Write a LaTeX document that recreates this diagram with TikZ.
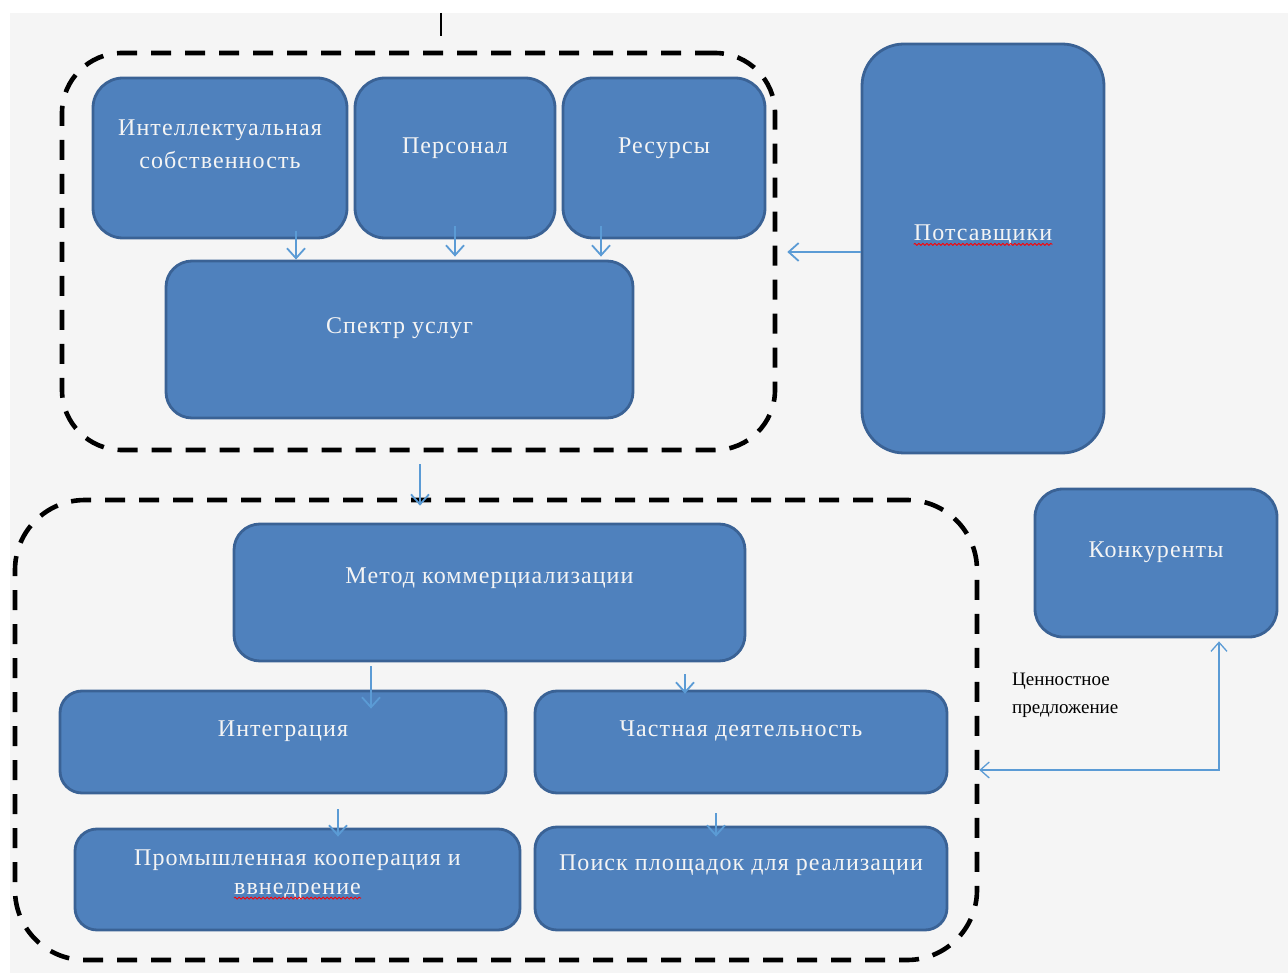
\documentclass[tikz,border=0pt]{standalone}
\usepackage{fontspec}
\setmainfont{Liberation Serif}
\newfontfamily\boxfont{Liberation Serif}[LetterSpace=4.5]
\usetikzlibrary{arrows.meta,decorations.pathmorphing,calc}
\definecolor{boxfill}{HTML}{4F81BD}
\definecolor{boxline}{HTML}{3A6295}
\definecolor{arrc}{HTML}{5B9BD5}
\definecolor{bgc}{HTML}{F5F5F5}
\definecolor{txtc}{HTML}{F4F4F4}
\begin{document}
\begin{tikzpicture}[x=1pt,y=-1pt,
  blk/.style={draw=boxline, line width=2.8pt, fill=boxfill, rounded corners=#1, inner sep=0pt},
  blk/.default=28pt,
  lbl/.style={text=txtc, font=\boxfont\fontsize{24}{33}\selectfont, align=center, inner sep=0pt},
  dbox/.style={draw=black, line width=4.6pt, dash pattern=on 20pt off 14pt, rounded corners=#1, inner sep=0pt},
  arr/.style={draw=arrc, line width=1.8pt, -{Straight Barb[length=10pt,width=18pt,line width=1.8pt]}},
  thinarr/.style={draw=arrc, line width=1.3pt, {Straight Barb[length=9pt,width=16pt,line width=1.3pt]}-{Straight Barb[length=9pt,width=16pt,line width=1.3pt]}},
  squig/.style={draw=red, line width=0.8pt, decorate, decoration={snake, amplitude=1pt, segment length=4pt}}
]
\fill[white] (0,0) rectangle (1288,973);
\useasboundingbox (0,0) rectangle (1288,973);
\fill[bgc] (10,13) rectangle (1288,973);
\coordinate (t1) at (441,13);
\coordinate (t2) at (441,36);
\draw[line width=2pt] (t1) -- (t2);

% dashed groups
\node[dbox=60pt, minimum width=713pt, minimum height=397pt] (dtop) at (418.5,251.5) {};
\node[dbox=70pt, minimum width=962pt, minimum height=460pt] (dbot) at (496,730) {};

% top group
\node[blk=30pt, minimum width=254pt, minimum height=160pt] (ip) at (220,158) {};
\node[lbl] (ipt) at (220,144) {Интеллектуальная\\собственность};
\node[blk=30pt, minimum width=200pt, minimum height=160pt] (pers) at (455,158) {};
\node[lbl] (perst) at (455,148) {Персонал};
\node[blk=30pt, minimum width=202pt, minimum height=160pt] (res) at (664,158) {};
\node[lbl] (rest) at (664,148) {Ресурсы};
\node[blk=26pt, minimum width=467pt, minimum height=157pt] (spec) at (399.5,339.5) {};
\node[lbl] (spect) at (399.5,328) {Спектр услуг};

% suppliers
\node[blk=42pt, minimum width=242pt, minimum height=409pt] (post) at (983,248.5) {};
\node[lbl] (postt) at (983,235) {Потсавщики};
\draw[squig] ([yshift=-4pt]postt.base west) -- ([yshift=-4pt]postt.base east);

% competitors
\node[blk=28pt, minimum width=242pt, minimum height=148pt] (konk) at (1156,563) {};
\node[lbl] (konkt) at (1156,552) {Конкуренты};

% bottom group
\node[blk=26pt, minimum width=511pt, minimum height=137pt] (metod) at (489.5,592.5) {};
\node[lbl] (metodt) at (489.5,578) {Метод коммерциализации};
\node[blk=22pt, minimum width=446pt, minimum height=102pt] (integ) at (283,742) {};
\node[lbl] (integt) at (283,731) {Интеграция};
\node[blk=22pt, minimum width=412pt, minimum height=102pt] (chast) at (741,742) {};
\node[lbl] (chastt) at (741,731) {Частная деятельность};
\node[blk=22pt, minimum width=445pt, minimum height=101pt] (prom) at (297.5,879.5) {};
\node[lbl] (promt1) at (297.5,860) {Промышленная кооперация и};
\node[lbl] (promt2) at (297.5,891) {ввнедрение};
\draw[squig] ([yshift=-4pt]promt2.base west) -- ([yshift=-4pt]promt2.base east);
\node[blk=22pt, minimum width=412pt, minimum height=103pt] (poisk) at (741,878.5) {};
\node[lbl] (poiskt) at (741,865) {Поиск площадок для реализации};

% arrows top group
\coordinate (a1) at ($(ip.south)+(76,-8)$);
\draw[arr] (a1) -- (a1 |- spec.north);
\coordinate (a2) at ($(pers.south)+(0,-13)$);
\draw[arr] (a2) -- ($(a2 |- spec.north)+(0,-3)$);
\coordinate (a3) at ($(res.south)+(-63,-13)$);
\draw[arr] (a3) -- ($(a3 |- spec.north)+(0,-3)$);

% suppliers -> top group
\coordinate (p1) at ($(post.west)+(0,3.5)$);
\draw[arr, line width=1.3pt] (p1) -- ($(p1 -| dtop.east)+(10,0)$);

% top group -> bottom group
\coordinate (g1) at ($(dtop.south)+(1.5,12)$);
\draw[arr] (g1) -- ($(g1 |- dbot.north)+(0,8)$);

% bottom arrows
\coordinate (b1) at ($(metod.south)+(-118.5,4)$);
\draw[arr] (b1) -- ($(b1 |- integ.north)+(0,19)$);
\coordinate (b2) at ($(metod.south)+(195.5,12)$);
\draw[arr] (b2) -- ($(b2 |- chast.north)+(0,4)$);
\coordinate (b3) at ($(integ.south)+(55,15)$);
\draw[arr] (b3) -- ($(b3 |- prom.north)+(0,9)$);
\coordinate (b4) at ($(chast.south)+(-25,19)$);
\draw[arr] (b4) -- ($(b4 |- poisk.north)+(0,11)$);

% value proposition
\coordinate (vy) at (0,770);
\coordinate (v1) at (dbot.east |- vy);
\coordinate (v2) at ($(konk.south)+(63,3)$);
\draw[thinarr] (v1) -- (v1 -| v2) -- (v2);
\node[anchor=west, align=left, font=\fontsize{19}{28}\selectfont, inner sep=0pt] (vp) at (1012,695) {Ценностное\\предложение};
\end{tikzpicture}
\end{document}
